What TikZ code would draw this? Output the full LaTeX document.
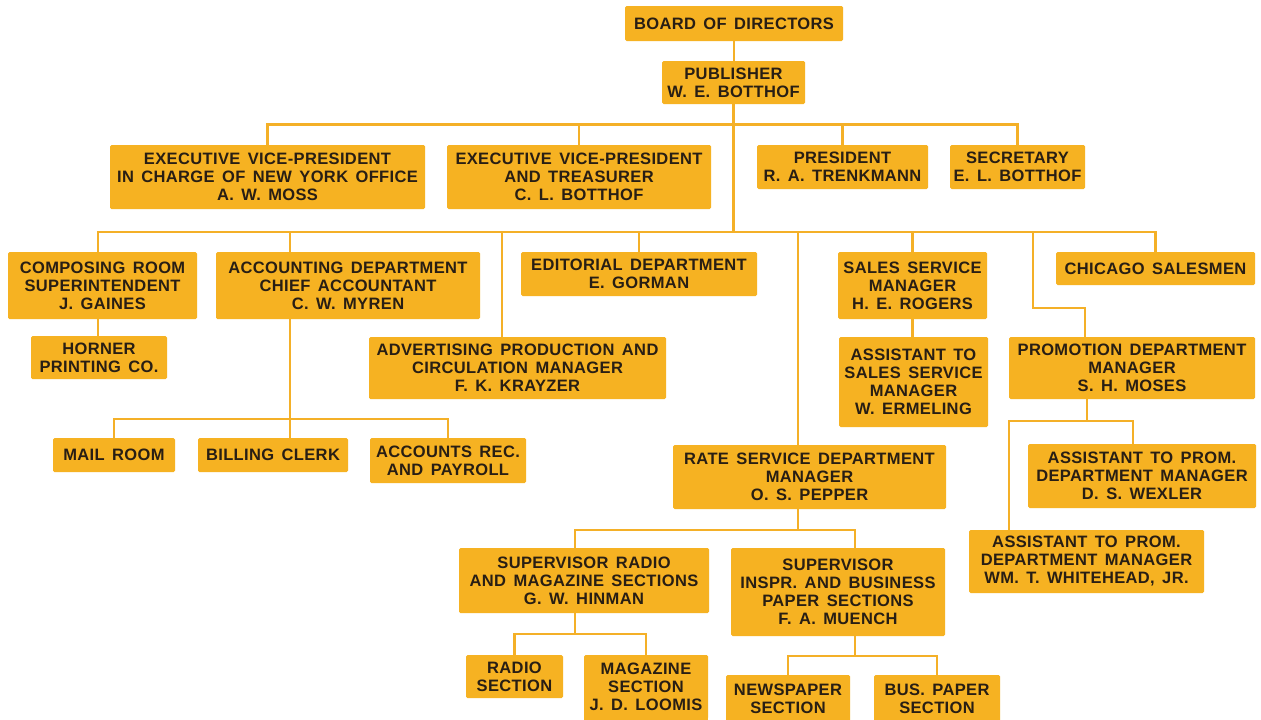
\documentclass[tikz,border=0pt]{standalone}
\usepackage{fontspec}
\setmainfont{Liberation Sans}[LetterSpace=2.2, WordSpace=1.5]
\definecolor{orgfill}{RGB}{246,178,34}
\definecolor{orgline}{RGB}{244,176,40}
\definecolor{orgtext}{RGB}{40,30,20}
\begin{document}
\begin{tikzpicture}[x=1pt,y=-1pt,
  box/.style={fill=orgfill, rounded corners=1.5pt, inner sep=0pt, align=center,
    text=orgtext, font=\fontsize{16.5}{18}\selectfont\bfseries},
  link/.style={draw=orgline, line width=2.8pt}]
\useasboundingbox (0,0) rectangle (1261,720);
\fill[white] (0,0) rectangle (1261,720);

% ---- top management ----
\node[box, minimum width=218, minimum height=35] (board) at (734,23.5) {BOARD OF DIRECTORS};
\node[box, minimum width=143, minimum height=43] (pub) at (733.5,82.5) {PUBLISHER\\W. E. BOTTHOF};
\node[box, minimum width=315, minimum height=64] (evpny) at (267.5,177) {EXECUTIVE VICE-PRESIDENT\\IN CHARGE OF NEW YORK OFFICE\\A. W. MOSS};
\node[box, minimum width=264, minimum height=64] (evptr) at (579,177) {EXECUTIVE VICE-PRESIDENT\\AND TREASURER\\C. L. BOTTHOF};
\node[box, minimum width=171, minimum height=44] (pres) at (842.5,167) {PRESIDENT\\R. A. TRENKMANN};
\node[box, minimum width=135, minimum height=44] (sec) at (1017.5,167) {SECRETARY\\E. L. BOTTHOF};

% ---- departments ----
\node[box, minimum width=189, minimum height=67] (comp) at (102.5,285.5) {COMPOSING ROOM\\SUPERINTENDENT\\J. GAINES};
\node[box, minimum width=264, minimum height=67] (acct) at (348,285.5) {ACCOUNTING DEPARTMENT\\CHIEF ACCOUNTANT\\C. W. MYREN};
\node[box, minimum width=236, minimum height=44] (edit) at (639,274) {EDITORIAL DEPARTMENT\\E. GORMAN};
\node[box, minimum width=149, minimum height=67] (sales) at (912.5,285.5) {SALES SERVICE\\MANAGER\\H. E. ROGERS};
\node[box, minimum width=199, minimum height=33] (chic) at (1155.5,268.5) {CHICAGO SALESMEN};
\node[box, minimum width=136, minimum height=43] (horner) at (99,357.5) {HORNER\\PRINTING CO.};
\node[box, minimum width=297, minimum height=62] (adv) at (517.5,368) {ADVERTISING PRODUCTION AND\\CIRCULATION MANAGER\\F. K. KRAYZER};
\node[box, minimum width=149, minimum height=90] (asales) at (913.5,382) {ASSISTANT TO\\SALES SERVICE\\MANAGER\\W. ERMELING};
\node[box, minimum width=246, minimum height=62] (promo) at (1132,368) {PROMOTION DEPARTMENT\\MANAGER\\S. H. MOSES};

% ---- accounting sections ----
\node[box, minimum width=122, minimum height=34] (mail) at (114,455) {MAIL ROOM};
\node[box, minimum width=150, minimum height=34] (billing) at (273,455) {BILLING CLERK};
\node[box, minimum width=156, minimum height=45] (acctrec) at (448,460.5) {ACCOUNTS REC.\\AND PAYROLL};

% ---- rate service ----
\node[box, minimum width=273, minimum height=64] (rate) at (809.5,477) {RATE SERVICE DEPARTMENT\\MANAGER\\O. S. PEPPER};
\node[box, minimum width=250, minimum height=65] (hin) at (584,580.5) {SUPERVISOR RADIO\\AND MAGAZINE SECTIONS\\G. W. HINMAN};
\node[box, minimum width=214, minimum height=88] (mu) at (838,592) {SUPERVISOR\\INSPR. AND BUSINESS\\PAPER SECTIONS\\F. A. MUENCH};
\node[box, minimum width=97, minimum height=43] (radio) at (514.5,676.5) {RADIO\\SECTION};
% the magazine box runs on past the lower edge
\fill[orgfill] (584,700) rectangle (708,724);
\node[box, minimum width=124, minimum height=64] (mag) at (646,687) {MAGAZINE\\SECTION\\J. D. LOOMIS};
\node[box, minimum width=124, minimum height=48] (news) at (788,699) {NEWSPAPER\\SECTION};
\node[box, minimum width=126, minimum height=48] (bus) at (937,699) {BUS. PAPER\\SECTION};

% ---- promotion assistants ----
\node[box, minimum width=228, minimum height=64] (wex) at (1142,476) {ASSISTANT TO PROM.\\DEPARTMENT MANAGER\\D. S. WEXLER};
\node[box, minimum width=235, minimum height=63] (white) at (1086.5,561.5) {ASSISTANT TO PROM.\\DEPARTMENT MANAGER\\WM. T. WHITEHEAD, JR.};

% ---- connectors ----
\draw[link] (board.south) -- (board.south |- pub.north);
\draw[link] (evpny.north) -- ++(0,-20) -| (sec.north);
\draw[link] (evptr.north) -- ++(0,-20);
\draw[link] (pres.north) -- ++(0,-20);

\coordinate (bA) at (98,232);
\draw[link] (pub.south) -- (pub.south |- bA);
\draw[link] (bA |- comp.north) -- (bA) -| (chic.north);
\draw[link] (bA |- comp.south) -- (bA |- horner.north);

\coordinate (acctTop) at (290,232);
\draw[link] (acctTop) -- (acctTop |- acct.north);
\coordinate (acctBus) at (290,419);
\draw[link] (acctTop |- acct.south) -- (acctTop |- billing.north);
\draw[link] (mail.north) |- (acctBus) -| (acctrec.north);

\coordinate (advTop) at (502,232);
\draw[link] (advTop) -- (advTop |- adv.north);
\draw[link] (edit.north) -- (edit.north |- bA);

\coordinate (rateTop) at (798,232);
\draw[link] (rateTop) -- (rateTop |- rate.north);
\draw[link] (sales.north) -- (sales.north |- bA);
\draw[link] (sales.south) -- (sales.south |- asales.north);

\coordinate (promoTop) at (1033,232);
\coordinate (promoBend) at (1085,308);
\draw[link] (promoTop) |- (promoBend) -- (promoBend |- promo.north);

\coordinate (promoBus) at (1087,421);
\coordinate (whX) at (1009,421);
\coordinate (wxX) at (1133,421);
\draw[link] (promoBus |- promo.south) -- (promoBus);
\draw[link] (whX |- white.north) -- (whX) -- (wxX) -- (wxX |- wex.north);

\coordinate (rateBus) at (798,530);
\coordinate (hinX) at (575,530);
\coordinate (muX) at (855,530);
\draw[link] (rateTop |- rate.south) -- (rateBus);
\draw[link] (hinX |- hin.north) -- (hinX) -- (muX) -- (muX |- mu.north);

\coordinate (hinBus) at (575,634);
\draw[link] (hinX |- hin.south) -- (hinBus);
\draw[link] (radio.north) |- (hinBus) -| (mag.north);

\coordinate (muBus) at (855,656);
\draw[link] (muX |- mu.south) -- (muBus);
\draw[link] (news.north) |- (muBus) -| (bus.north);
\end{tikzpicture}
\end{document}
